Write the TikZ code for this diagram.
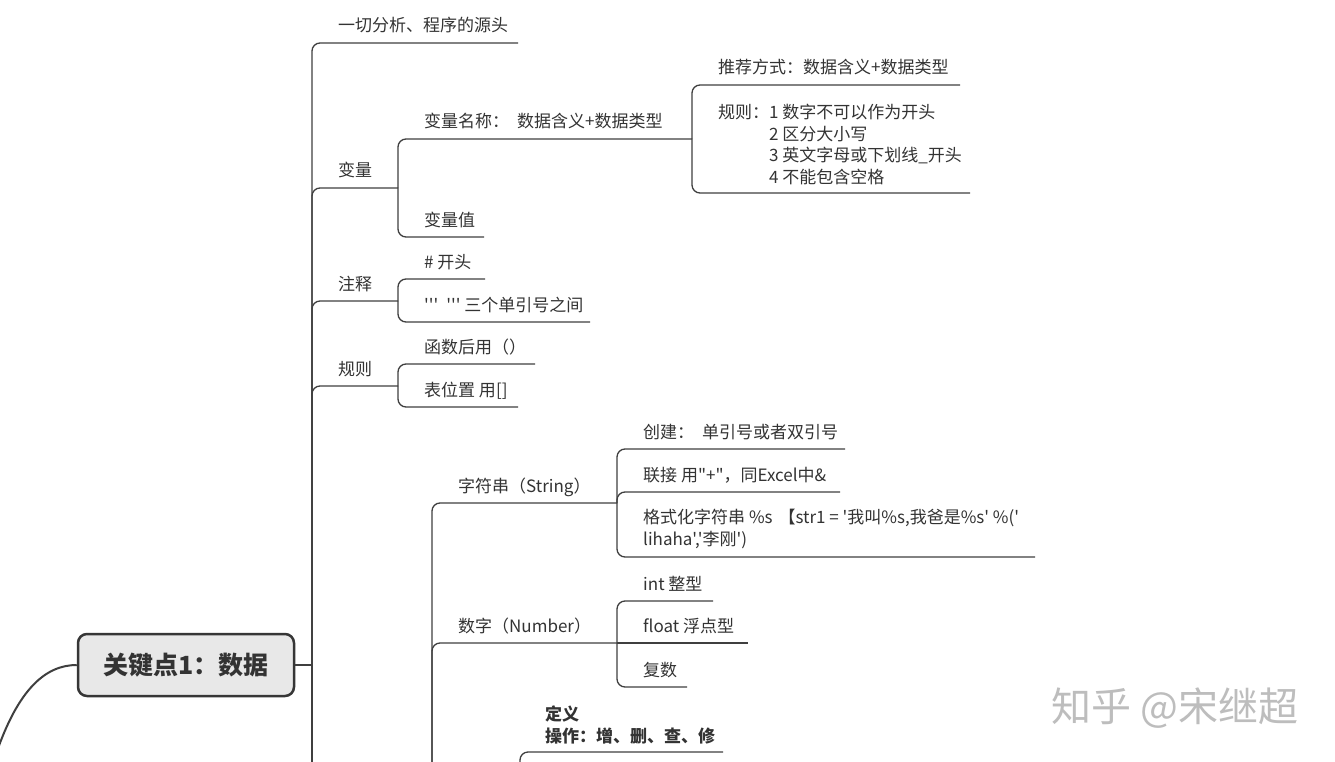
\documentclass[tikz,border=0pt]{standalone}
\usepackage{fontspec}
\newfontfamily\cjk{Noto Sans CJK SC}
\newcommand\myq{\char39\relax}
\definecolor{linec}{HTML}{3F3F3F}
\definecolor{txt}{HTML}{333333}
\definecolor{boxf}{HTML}{E8E8E8}
\definecolor{boxc}{HTML}{363636}
\definecolor{wmc}{HTML}{BDBDBD}
\begin{document}
\begin{tikzpicture}[x=1pt,y=-1pt,
  conn/.style={draw=linec, line width=1.3pt, rounded corners=8pt},
  topic/.style={font=\cjk\fontsize{17}{21.7}\selectfont, text=txt, inner sep=0pt, anchor=base west},
  mtopic/.style={topic, align=left, anchor=south west},
  btopic/.style={mtopic, font=\cjk\bfseries\fontsize{17}{21.7}\selectfont}]
\useasboundingbox (0,0) rectangle (1335,762);
\fill[white] (0,0) rectangle (1335,762);

% root of this branch
\node[draw=boxc, line width=2.5pt, fill=boxf, rounded corners=9pt, minimum width=216pt, minimum height=62pt,
      font=\cjk\bfseries\fontsize{25}{30}\selectfont, text=txt] (root) at (186,665) {关键点1：数据};
\coordinate (up) at (-4,754);
\draw[draw=linec, line width=2pt] (root.west) .. controls (45,665) and (18,690) .. (up);

% main trunk
\coordinate (J) at (312,665);
\coordinate (Jb) at (312,775);
\draw[conn] (root.east) -- (J);
\draw[conn] (J) -- (Jb);

\node[topic] (t1) at (338,32) {一切分析、程序的源头};
\coordinate (t1e) at (518,43);
\draw[conn] (J) |- (t1e);

\node[topic] (t2) at (338,177) {变量};
\coordinate (J2) at (398,188);
\draw[conn] (J) |- (J2);

\node[topic] (t3) at (338,290) {注释};
\coordinate (J3) at (398,301);
\draw[conn] (J) |- (J3);

\node[topic] (t4) at (338,375) {规则};
\coordinate (J4) at (398,386);
\draw[conn] (J) |- (J4);

% 变量
\node[topic] (v1) at (424,128) {变量名称：\hspace{8pt}数据含义+数据类型};
\coordinate (J5) at (692,139);
\draw[conn] (J2) |- (J5);
\node[topic] (v2) at (424,226) {变量值};
\coordinate (v2e) at (484,237);
\draw[conn] (J2) |- (v2e);

\node[topic] (r1) at (718,74) {推荐方式：数据含义+数据类型};
\coordinate (r1e) at (960,85);
\draw[conn] (J5) |- (r1e);
\node[mtopic] (r2) at (718,185) {规则：1 数字不可以作为开头\\\phantom{规则：}2 区分大小写\\\phantom{规则：}3 英文字母或下划线\_开头\\\phantom{规则：}4 不能包含空格};
\coordinate (r2e) at (970,193);
\draw[conn] (J5) |- (r2e);

% 注释
\node[topic] (c1) at (424,268) {\# 开头};
\coordinate (c1e) at (485,279);
\draw[conn] (J3) |- (c1e);
\node[topic] (c2) at (424,311) {\myq\myq\myq\hspace{8pt}\myq\myq\myq\ 三个单引号之间};
\coordinate (c2e) at (590,322);
\draw[conn] (J3) |- (c2e);

% 规则
\node[topic] (g1) at (424,353) {函数后用（）};
\coordinate (g1e) at (535,364);
\draw[conn] (J4) |- (g1e);
\node[topic] (g2) at (424,396) {表位置 用[]};
\coordinate (g2e) at (518,407);
\draw[conn] (J4) |- (g2e);

% 数据类型 sub-trunk
\coordinate (K) at (432,775);
\node[topic] (s) at (458,492) {字符串（String）};
\coordinate (Ks) at (617,503);
\draw[conn] (K) |- (Ks);
\node[topic] (n) at (458,632) {数字（Number）};
\coordinate (Kn) at (617,643);
\draw[conn] (K) |- (Kn);

\node[topic] (s1) at (643,438) {创建：\hspace{8pt}单引号或者双引号};
\coordinate (s1e) at (845,449);
\draw[conn] (Ks) |- (s1e);
\node[topic] (s2) at (643,481) {联接 用"+"，同Excel中\&};
\coordinate (s2e) at (840,492);
\draw[conn] (Ks) |- (s2e);
\node[mtopic] (s3) at (643,549) {格式化字符串 \%s\hspace{6pt}【str1 = \myq 我叫\%s,我爸是\%s\myq{} \%(\myq\\lihaha\myq,\myq 李刚\myq)};
\coordinate (s3e) at (1035,557);
\draw[conn] (Ks) |- (s3e);

\node[topic] (n1) at (643,590) {int 整型};
\coordinate (n1e) at (713,601);
\draw[conn] (Kn) |- (n1e);
\node[topic] (n2) at (643,632) {float 浮点型};
\coordinate (n2e) at (748,643);
\draw[conn] (Kn) -- (n2e);
\node[topic] (n3) at (643,676) {复数};
\coordinate (n3e) at (687,687);
\draw[conn] (Kn) |- (n3e);

% 列表 child
\coordinate (L) at (520,775);
\node[btopic] (d) at (545,744) {定义\\操作：增、删、查、修};
\coordinate (de) at (723,752);
\draw[conn] (L) |- (de);

% watermark
\node[font=\cjk\fontsize{40}{42}\selectfont, text=wmc, anchor=base west, inner sep=0pt] (wm) at (1051,721) {知乎 @宋继超};
\end{tikzpicture}
\end{document}
